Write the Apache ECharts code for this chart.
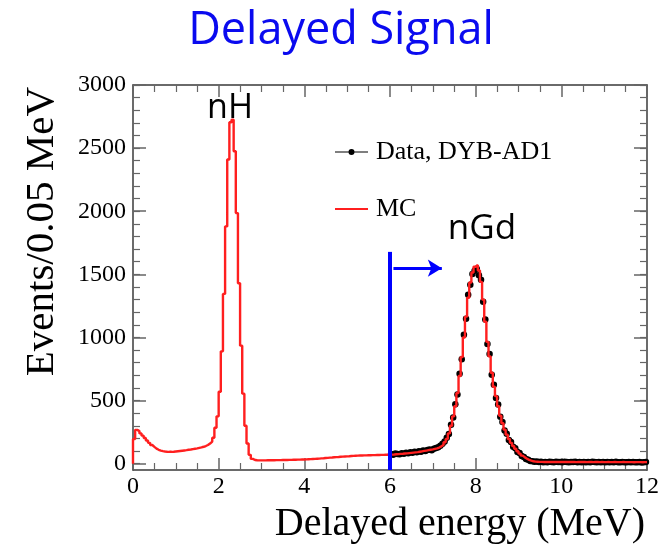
<!DOCTYPE html>
<html>
<head>
<meta charset="utf-8">
<script src="https://cdn.jsdelivr.net/npm/echarts@6.0.0/dist/echarts.min.js"></script>
<style>
  html, body { margin: 0; padding: 0; background: #fff; }
  #chart { width: 664px; height: 548px; }
</style>
</head>
<body>
<div id="chart"></div>
<script>
// Delayed-energy spectrum: MC histogram (0.05 MeV bins, 0-12 MeV) and DYB-AD1 data above 6 MeV.
const BIN_WIDTH = 0.05;

// MC counts per 0.05 MeV bin, bins starting at 0.00, 0.05, ... 11.95 MeV
const mcCounts = [
  195, 268, 258, 240, 222, 203, 184, 165, 148, 133,   // 0.00-0.45
  119, 110, 104, 100, 97, 95, 94, 94, 95, 97,         // 0.50-0.95
  99, 101, 103, 105, 107, 110, 112, 115, 118, 121,    // 1.00-1.45
  125, 129, 134, 140, 148, 160, 175, 205, 285, 375,   // 1.50-1.95
  570, 890, 1345, 1880, 2410, 2705, 2725, 2475, 1985, 1430, // 2.00-2.45
  935, 555, 300, 160, 70, 38, 29, 27, 26, 26,         // 2.50-2.95
  26, 26, 27, 27, 27, 27, 28, 28, 28, 29,             // 3.00-3.45
  29, 29, 30, 30, 31, 31, 32, 32, 33, 33,             // 3.50-3.95
  34, 35, 36, 37, 38, 39, 40, 42, 43, 45,             // 4.00-4.45
  46, 48, 49, 51, 52, 53, 55, 56, 57, 58,             // 4.50-4.95
  59, 61, 62, 63, 64, 65, 65, 66, 66, 67,             // 5.00-5.45
  67, 68, 68, 69, 69, 70, 70, 71, 71, 72,             // 5.50-5.95
  72, 73, 75, 76, 78, 79, 81, 82, 84, 86,             // 6.00-6.45
  88, 90, 92, 95, 98, 101, 104, 107, 110, 113,        // 6.50-6.95
  117, 121, 128, 137, 150, 170, 196, 240, 300, 375,   // 7.00-7.45
  455, 560, 695, 845, 1000, 1165, 1315, 1435, 1515, 1560, // 7.50-7.95
  1575, 1530, 1440, 1300, 1125, 965, 850, 720, 610, 535,  // 8.00-8.45
  455, 380, 320, 270, 230, 195, 165, 140, 118, 98,    // 8.50-8.95
  80, 64, 50, 39, 30, 24, 19, 16, 15, 14,             // 9.00-9.45
  14, 13, 14, 13, 13, 14, 13, 13, 13, 14,             // 9.50-9.95
  13, 13, 14, 13, 13, 13, 12, 13, 13, 13,             // 10.00-10.45
  13, 12, 13, 13, 12, 13, 13, 12, 13, 12,             // 10.50-10.95
  12, 13, 12, 12, 13, 12, 12, 12, 13, 12,             // 11.00-11.45
  12, 12, 12, 11, 12, 12, 12, 11, 12, 12              // 11.50-11.95
];

// Data counts per 0.05 MeV bin, starting at 6.00 MeV (delayed-energy cut)
const DATA_START = 6.0;
const dataCounts = [
  76, 71, 80, 77, 74, 83, 79, 86, 82, 90,             // 6.00-6.45
  87, 95, 91, 99, 94, 104, 100, 108, 112, 106,        // 6.50-6.95
  118, 124, 131, 142, 158, 176, 205, 236, 308, 366,   // 7.00-7.45
  470, 548, 712, 828, 1022, 1148, 1338, 1418, 1502, 1528, // 7.50-7.95
  1545, 1492, 1458, 1283, 1142, 948, 868, 705, 626, 521,  // 8.00-8.45
  468, 371, 331, 262, 238, 187, 171, 134, 123, 93,    // 8.50-8.95
  85, 61, 53, 37, 32, 22, 20, 15, 17, 13,             // 9.00-9.45
  15, 12, 14, 11, 15, 13, 12, 16, 13, 14,             // 9.50-9.95
  12, 15, 13, 11, 14, 13, 15, 12, 14, 12,             // 10.00-10.45
  13, 11, 14, 12, 15, 13, 12, 14, 11, 13,             // 10.50-10.95
  12, 14, 11, 13, 12, 15, 12, 11, 13, 12,             // 11.00-11.45
  11, 13, 12, 14, 11, 12, 13, 10, 12, 13              // 11.50-11.95
];

// Axis ranges and tick values
const X_RANGE = [0, 12];
const X_MAJOR_STEP = 2;
const Y_RANGE = [-50, 3000];
const yMajorTicks = [0, 500, 1000, 1500, 2000, 2500, 3000];
const yMinorTicks = [];
for (let v = 0; v <= 3000; v += 100) yMinorTicks.push(v);

// Energy cut marker and annotation
const CUT_ENERGY = 6.0;
const CUT_LINE_TOP = 1678;
const ARROW_LEVEL = 1549;
const ARROW_END = 7.21;

const seriesNames = { data: 'Data, DYB-AD1', mc: 'MC' };
const peakLabels = ['nH', 'nGd'];

// Histogram outline: left bin edges with step-at-end, closed at both ends
const mcStep = [[X_RANGE[0], 0]];
mcCounts.forEach((c, i) => mcStep.push([i * BIN_WIDTH, c]));
mcStep.push([X_RANGE[1], mcCounts[mcCounts.length - 1]]);

// Data points at bin centres
const dataPoints = dataCounts.map((c, i) => [DATA_START + (i + 0.5) * BIN_WIDTH, c]);

const serif = '"Liberation Serif", "Times New Roman", serif';
const frameColor = '#3a3a3a';
const tickColor = '#666';

function xAxisDef(position, withLabels) {
  return {
    type: 'value', position, min: X_RANGE[0], max: X_RANGE[1], interval: X_MAJOR_STEP,
    splitLine: { show: false },
    axisLine: { show: true, onZero: false, lineStyle: { color: frameColor, width: 1.5 } },
    axisTick: { show: true, inside: true, length: 12, lineStyle: { color: tickColor, width: 1.5 } },
    minorTick: { show: true, splitNumber: 4, length: 7, lineStyle: { color: tickColor, width: 1.2 } },
    axisLabel: { show: withLabels, fontFamily: serif, fontSize: 24, color: '#000', margin: 5 }
  };
}

function yAxisDef(position, ticks, len, withLine, withLabels) {
  return {
    type: 'value', position, min: Y_RANGE[0], max: Y_RANGE[1],
    splitLine: { show: false },
    axisLine: { show: withLine, onZero: false, lineStyle: { color: frameColor, width: 1.5 } },
    axisTick: { show: true, inside: true, length: len, customValues: ticks,
      lineStyle: { color: tickColor, width: len > 9 ? 1.5 : 1.2 } },
    axisLabel: { show: withLabels, customValues: yMajorTicks, fontFamily: serif,
      fontSize: 24, color: '#000', margin: 7, formatter: (v) => String(v) }
  };
}

const chart = echarts.init(document.getElementById('chart'));

const xMain = xAxisDef('bottom', true);
xMain.name = 'Delayed energy (MeV)';
xMain.nameLocation = 'end';
xMain.nameGap = -2;
xMain.nameTextStyle = { fontFamily: serif, fontSize: 40, color: '#000',
  align: 'right', verticalAlign: 'top', padding: [34, 0, 0, 0] };

const yMain = yAxisDef('left', yMajorTicks, 13, true, true);
yMain.name = 'Events/0.05 MeV';
yMain.nameLocation = 'end';
yMain.nameRotate = 90;
yMain.nameGap = -2;
yMain.nameTextStyle = { fontFamily: serif, fontSize: 41, color: '#000',
  align: 'right', verticalAlign: 'bottom', padding: [0, 0, 70, 0] };

chart.setOption({
  animation: false,
  backgroundColor: '#fff',
  grid: { left: 133, right: 17, top: 85, bottom: 78, outerBoundsMode: 'none' },
  xAxis: [xMain, xAxisDef('top', false)],
  yAxis: [
    yMain,
    yAxisDef('left', yMinorTicks, 7, false, false),
    yAxisDef('right', yMajorTicks, 13, true, false),
    yAxisDef('right', yMinorTicks, 7, false, false)
  ],
  legend: [
    {
      data: [{ name: seriesNames.data,
        icon: 'path://M0,2.5 L33,2.5 L33,3.5 L0,3.5 Z M16.5,0 A3,3 0 1,1 16.5,6 A3,3 0 1,1 16.5,0 Z' }],
      left: 330, top: 134, itemWidth: 33, itemHeight: 6,
      selectedMode: false,
      textStyle: { fontFamily: serif, fontSize: 26, color: '#000', padding: [0, 0, 0, 3] }
    },
    {
      data: [{ name: seriesNames.mc, icon: 'rect' }],
      left: 330, top: 191, itemWidth: 33, itemHeight: 2,
      selectedMode: false,
      textStyle: { fontFamily: serif, fontSize: 26, color: '#000', padding: [0, 0, 0, 3] }
    }
  ],
  series: [
    {
      name: seriesNames.data, type: 'scatter', data: dataPoints,
      symbol: 'circle', symbolSize: 6.5, itemStyle: { color: '#000', opacity: 1 }, z: 3, silent: true
    },
    {
      name: seriesNames.mc, type: 'line', step: 'end', data: mcStep,
      showSymbol: false, symbol: 'none',
      lineStyle: { color: '#ff1f1f', width: 2.4 }, itemStyle: { color: '#ff1f1f' },
      z: 4, silent: true
    },
    {
      name: 'cut', type: 'line',
      data: [[CUT_ENERGY, Y_RANGE[0]], [CUT_ENERGY, CUT_LINE_TOP]],
      showSymbol: false, symbol: 'none',
      lineStyle: { color: '#0000ff', width: 4 }, z: 5, silent: true,
      markLine: {
        silent: true, symbol: ['none', 'arrow'], symbolSize: [13, 14],
        label: { show: false },
        lineStyle: { color: '#0000ff', width: 3, type: 'solid' },
        data: [[{ coord: [CUT_ENERGY + 0.08, ARROW_LEVEL] }, { coord: [ARROW_END, ARROW_LEVEL] }]]
      }
    }
  ],
  graphic: [
    { type: 'text', x: 341, y: 31,
      style: { text: 'Delayed Signal', fill: '#0a0aef', textAlign: 'center', textVerticalAlign: 'middle',
        font: '45px "Open Sans", "Noto Sans", sans-serif' } },
    { type: 'text', x: 230, y: 108,
      style: { text: peakLabels[0], fill: '#000', textAlign: 'center', textVerticalAlign: 'middle',
        font: '34px "Open Sans", "Noto Sans", sans-serif' } },
    { type: 'text', x: 482, y: 229,
      style: { text: peakLabels[1], fill: '#000', textAlign: 'center', textVerticalAlign: 'middle',
        font: '35px "Open Sans", "Noto Sans", sans-serif' } }
  ]
});
</script>
</body>
</html>
